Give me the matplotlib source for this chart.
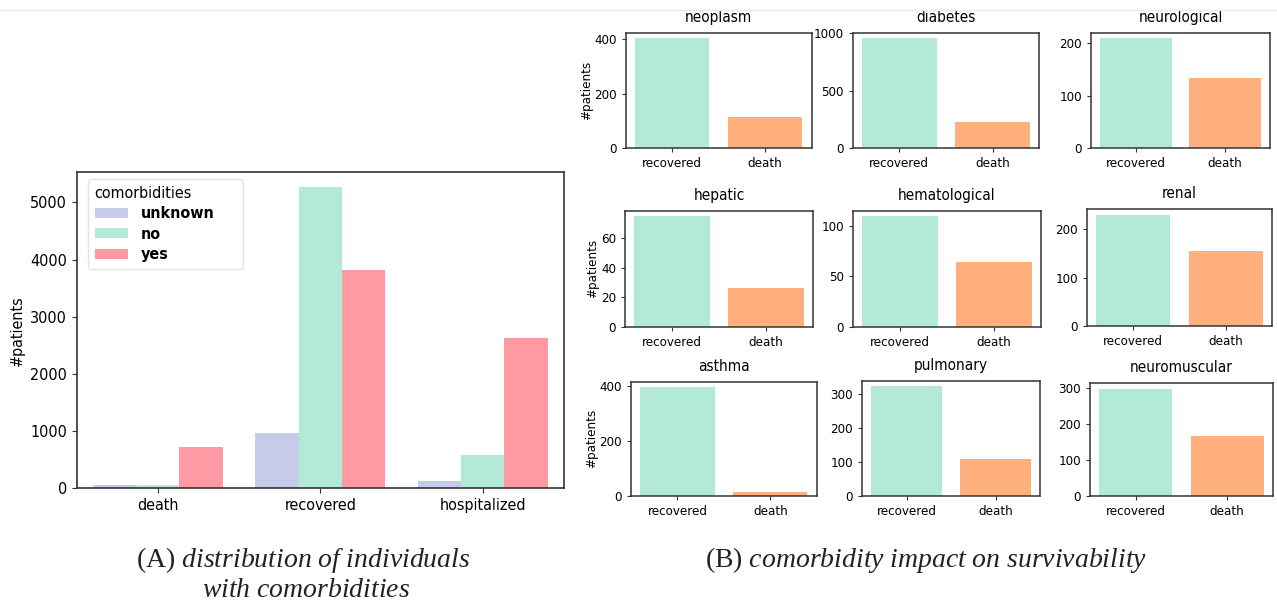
import matplotlib
matplotlib.use("Agg")
import matplotlib.pyplot as plt
import numpy as np
from matplotlib.lines import Line2D

plt.rcParams['font.family'] = ['DejaVu Sans']
plt.rcParams['font.stretch'] = 'condensed'
plt.rcParams['mathtext.fontset'] = 'custom'
plt.rcParams['mathtext.rm'] = 'Liberation Serif'
plt.rcParams['mathtext.it'] = 'Liberation Serif:italic'

# ---------------- data ----------------
outcomes = ["death", "recovered", "hospitalized"]
hue_levels = ["unknown", "no", "yes"]
unknown_vals = [58, 973, 134]
no_vals = [52, 5262, 589]
yes_vals = [717, 3817, 2622]

diseases = ["neoplasm", "diabetes", "neurological",
            "hepatic", "hematological", "renal",
            "asthma", "pulmonary", "neuromuscular"]
surv_cats = ["recovered", "death"]
recovered_vals = [402, 958, 210, 75, 110, 231, 397, 324, 297]
death_vals = [115, 225, 134, 26, 64, 155, 15, 110, 165]
yticks_sets = [[0, 200, 400], [0, 500, 1000], [0, 100, 200],
               [0, 20, 40, 60], [0, 50, 100], [0, 100, 200],
               [0, 200, 400], [0, 100, 200, 300], [0, 100, 200, 300]]

hue_colors = ["#c5cbe9", "#b3ead6", "#ff9aa2"]
surv_colors = ["#b3ead6", "#ffb07c"]

W, H = 1277, 601
fig = plt.figure(figsize=(W / 100, H / 100), dpi=100)


def rect(x0, x1, y0, y1):
    return [x0 / W, 1 - y1 / H, (x1 - x0) / W, (y1 - y0) / H]


spine_col = "#333333"

# ---------------- panel A ----------------
axA = fig.add_axes(rect(76.6, 564, 172.3, 488.3))
x = np.arange(len(outcomes))
bw = 0.8 / 3
for i, (lvl, vals, c) in enumerate(zip(hue_levels, [unknown_vals, no_vals, yes_vals], hue_colors)):
    axA.bar(x + (i - 1) * bw, vals, width=bw, color=c, label=lvl, linewidth=0)
axA.set_xlim(-0.5, 2.5)
axA.set_xticks(x)
axA.set_xticklabels(outcomes, fontsize=11.5)
axA.set_yticks([0, 1000, 2000, 3000, 4000, 5000])
axA.tick_params(axis='y', labelsize=11.5)
axA.tick_params(axis='both', color=spine_col)
axA.set_ylabel("#patients", fontsize=11.5)
axA.yaxis.set_label_coords(-0.106, 0.5)
for s in axA.spines.values():
    s.set_color(spine_col)
    s.set_linewidth(1.2)
leg = axA.legend(title="comorbidities", loc="upper left", mode="expand",
                 bbox_to_anchor=(0.024, 0.691, 0.317, 0.287), borderaxespad=0,
                 title_fontsize=11.5, prop={'weight': 'bold', 'size': 11.5},
                 handlelength=2.1, handleheight=0.6, labelspacing=0.35,
                 handletextpad=0.8, borderpad=0.4)
leg._legend_box.align = "left"
leg.get_frame().set_edgecolor("#dddddd")

# ---------------- panel B ----------------
positions = [
    (625.7, 811.7, 32.7, 148.3),
    (852.7, 1039.3, 32.7, 148.3),
    (1091, 1270, 32.7, 148.3),
    (625, 813, 210.7, 326.7),
    (853, 1041, 210.7, 326.7),
    (1087, 1272, 209, 325.7),
    (631, 816.7, 381.7, 496),
    (862, 1040, 380.7, 495.7),
    (1090, 1273, 383.3, 495.7),
]
for k, name in enumerate(diseases):
    ax = fig.add_axes(rect(*positions[k]))
    ax.bar([0, 1], [recovered_vals[k], death_vals[k]], width=0.8,
           color=surv_colors, linewidth=0)
    ax.set_xlim(-0.5, 1.5)
    ax.set_xticks([0, 1])
    ax.set_xticklabels(surv_cats, fontsize=9.5)
    ax.set_yticks(yticks_sets[k])
    ax.tick_params(axis='both', labelsize=9.5, length=3, color=spine_col)
    ax.set_title(name, fontsize=11, pad=8)
    if k % 3 == 0:
        ax.set_ylabel("#patients", fontsize=9.5, labelpad=1)
    for s in ax.spines.values():
        s.set_color(spine_col)
        s.set_linewidth(1.1)

# ---------------- captions ----------------
cap_kw = dict(ha="center", va="baseline", fontsize=20, color="#222222")
fig.text(303 / W, 1 - 567 / H, r"(A) $\mathit{distribution\ of\ individuals}$",
         family="Liberation Serif", **cap_kw)
fig.text(306 / W, 1 - 597 / H, r"$\mathit{with\ comorbidities}$",
         family="Liberation Serif", **cap_kw)
fig.text(926 / W, 1 - 567 / H, r"(B) $\mathit{comorbidity\ impact\ on\ survivability}$",
         family="Liberation Serif", **cap_kw)

fig.add_artist(Line2D([0, 1], [1 - 10 / H] * 2, color="#ececec", lw=1))

fig.savefig("out.png", dpi=100)
